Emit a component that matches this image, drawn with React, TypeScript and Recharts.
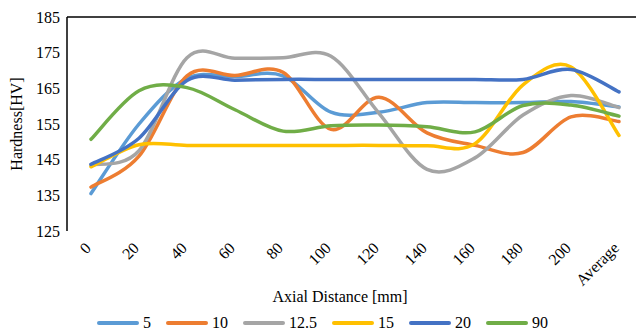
import React from "react";
import { LineChart, Line, XAxis, YAxis, ReferenceLine, Label } from "recharts";

const categories = ["0", "20", "40", "60", "80", "100", "120", "140", "160", "180", "200", "Average"];

const s5 = [135.5, 155, 167.8, 168.3, 168.5, 158.3, 158.3, 161, 161, 161, 161.3, 159.8];
const s10 = [137.3, 146, 168.5, 168.6, 169.5, 153.5, 162.5, 152.5, 149, 147, 157, 155.7];
const s12_5 = [143.5, 147.5, 173.6, 173.4, 173.6, 174, 158, 142.3, 145.5, 157.5, 163, 159.6];
const s15 = [143, 149.2, 149, 149, 149, 149, 149, 148.9, 149.5, 166, 171, 151.8];
const s20 = [143.7, 151, 167.2, 167.3, 167.5, 167.5, 167.5, 167.5, 167.5, 167.5, 170.3, 164];
const s90 = [150.7, 164.3, 165.2, 159, 153, 154.5, 154.7, 154.2, 152.8, 160.2, 160.3, 157.2];

const yTicks = [125, 135, 145, 155, 165, 175, 185];

const series = [
  { key: "s5", name: "5", values: s5, color: "#5B9BD5" },
  { key: "s10", name: "10", values: s10, color: "#ED7D31" },
  { key: "s12_5", name: "12.5", values: s12_5, color: "#A5A5A5" },
  { key: "s15", name: "15", values: s15, color: "#FFC000" },
  { key: "s20", name: "20", values: s20, color: "#4472C4" },
  { key: "s90", name: "90", values: s90, color: "#70AD47" },
];

const data = categories.map((label, i) => {
  const row: Record<string, number | string> = { idx: i, label };
  series.forEach((s) => {
    row[s.key] = s.values[i];
  });
  return row;
});

const boundaryTicks = categories.map((_, i) => i - 0.5).concat([categories.length - 0.5]);
const centerTicks = categories.map((_, i) => i);

const FONT = "Liberation Serif, Times New Roman, serif";
const FS = 16;

// excel-like smoothed line (catmull-rom style bezier)
function smoothCurve(context: any) {
  let xs: number[] = [];
  let ys: number[] = [];
  return {
    areaStart() {},
    areaEnd() {},
    lineStart() {
      xs = [];
      ys = [];
    },
    point(x: number, y: number) {
      xs.push(+x);
      ys.push(+y);
    },
    lineEnd() {
      const n = xs.length;
      if (!n) return;
      context.moveTo(xs[0], ys[0]);
      for (let i = 0; i < n - 1; i++) {
        const a = Math.max(i - 1, 0);
        const d = Math.min(i + 2, n - 1);
        const c1x = xs[i] + (xs[i + 1] - xs[a]) / 6;
        const c1y = ys[i] + (ys[i + 1] - ys[a]) / 6;
        const c2x = xs[i + 1] - (xs[d] - xs[i]) / 6;
        const c2y = ys[i + 1] - (ys[d] - ys[i]) / 6;
        context.bezierCurveTo(c1x, c1y, c2x, c2y, xs[i + 1], ys[i + 1]);
      }
    },
  };
}

const CategoryTick = (props: any) => {
  const { x, y, payload } = props;
  const text = categories[payload.value];
  if (text === undefined) return null;
  return (
    <g transform={`translate(${x + 1},${y + 18})`}>
      <text
        x={0}
        y={0}
        textAnchor="end"
        transform="rotate(-45)"
        fontSize={FS}
        style={{ fontFamily: FONT }}
        fill="#000"
      >
        {text}
      </text>
    </g>
  );
};

export default function App() {
  return (
    <div
      style={{
        position: "absolute",
        left: 0,
        top: 0,
        width: 636,
        height: 332,
        overflow: "hidden",
        background: "#fff",
        fontFamily: FONT,
      }}
    >
      <LineChart
        width={650}
        height={332}
        data={data}
        margin={{ top: 17, right: 7, left: 0, bottom: 25 }}
        style={{ fontFamily: FONT }}
      >
        <XAxis
          xAxisId="ticks"
          type="number"
          dataKey="idx"
          domain={[-0.5, categories.length - 0.5]}
          ticks={boundaryTicks}
          allowDataOverflow
          height={0}
          tickSize={5}
          tickFormatter={() => ""}
          axisLine={{ stroke: "#000", strokeWidth: 1.5 }}
          tickLine={{ stroke: "#000", strokeWidth: 1.5 }}
        />
        <XAxis
          xAxisId="cat"
          type="number"
          dataKey="idx"
          domain={[-0.5, categories.length - 0.5]}
          ticks={centerTicks}
          allowDataOverflow
          height={76}
          axisLine={false}
          tickLine={false}
          tickSize={0}
          tickMargin={0}
          tick={<CategoryTick />}
        >
          <Label
            value="Axial Distance [mm]"
            position="insideBottom"
            offset={5}
            dx={-15}
            style={{ fontSize: FS, fontFamily: FONT, fill: "#000" }}
          />
        </XAxis>
        <YAxis
          domain={[125, 185]}
          ticks={yTicks}
          width={67}
          tickLine={false}
          tickSize={5}
          tickMargin={2}
          axisLine={{ stroke: "#000", strokeWidth: 1.5 }}
          tick={{ fontSize: FS, fill: "#000", style: { fontFamily: FONT } }}
        >
          <Label
            value="Hardness[HV]"
            angle={-90}
            position="insideLeft"
            dx={11}
            style={{ fontSize: FS, fontFamily: FONT, fill: "#000", textAnchor: "middle" }}
          />
        </YAxis>
        <ReferenceLine xAxisId="cat" y={185} stroke="#000" strokeWidth={1.5} ifOverflow="visible" />
        {series.map((s) => (
          <Line
            key={s.key}
            xAxisId="cat"
            dataKey={s.key}
            name={s.name}
            type={smoothCurve as any}
            stroke={s.color}
            strokeWidth={3.5}
            strokeLinecap="round"
            dot={false}
            activeDot={false}
            isAnimationActive={false}
          />
        ))}
      </LineChart>
      <div
        style={{
          position: "absolute",
          left: 97,
          top: 314,
          display: "flex",
          alignItems: "center",
          fontSize: FS,
          lineHeight: "18px",
          color: "#000",
        }}
      >
        {series.map((s) => (
          <div key={s.key} style={{ display: "flex", alignItems: "center", marginRight: 15 }}>
            <span
              style={{
                display: "inline-block",
                width: 42,
                height: 4,
                borderRadius: 2,
                background: s.color,
                marginRight: 4,
              }}
            />
            <span>{s.name}</span>
          </div>
        ))}
      </div>
    </div>
  );
}
